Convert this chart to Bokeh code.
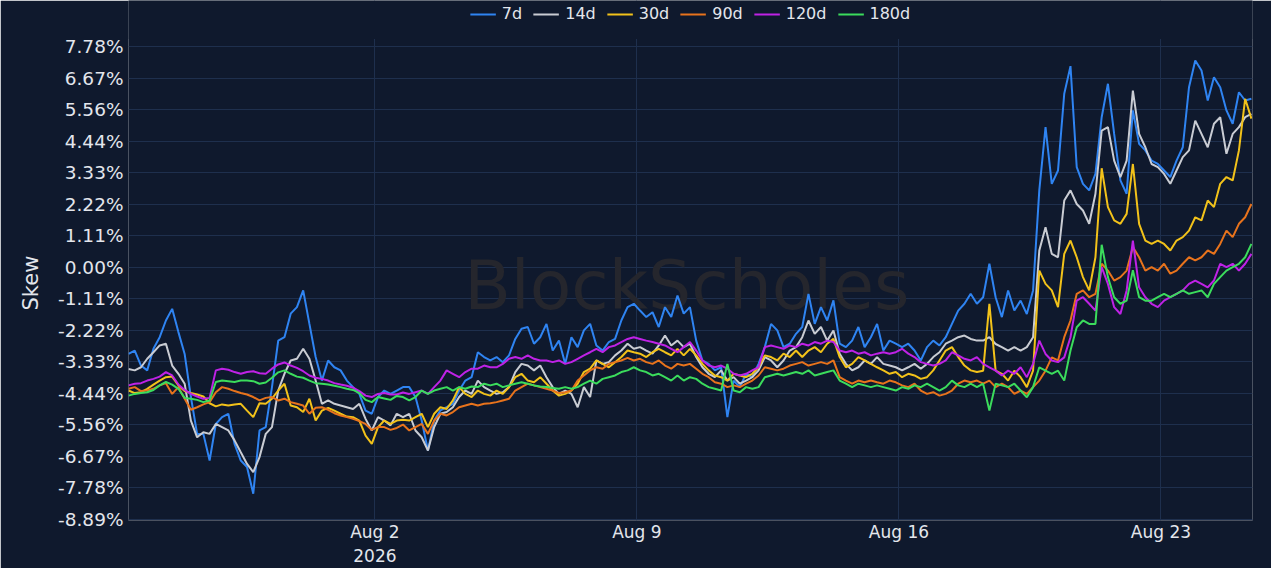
import pandas as pd
from bokeh.plotting import figure
from bokeh.models import (ColumnDataSource, Range1d, FixedTicker, PrintfTickFormatter,
                          CustomJSTickFormatter, Legend, LegendItem, Label, BoxAnnotation,
                          Title)
from bokeh.embed import file_html
from bokeh.resources import INLINE

# ---------------- data (skew, %, sampled every 4 hours) ----------------
START = "2026-07-26 10:00"
FREQ = "4h"

SERIES = ["7d", "14d", "30d", "90d", "120d", "180d"]

skew_7d = [
    -3.05, -2.93, -3.46, -3.63, -2.87, -2.46, -1.87, -1.46, -2.28, -3.05,
    -4.57, -5.87, -5.87, -6.81, -5.52, -5.28, -5.16, -6.22, -6.81, -7.04,
    -7.98, -5.75, -5.63, -4.22, -2.58, -2.46, -1.63, -1.40, -0.81, -1.99,
    -3.16, -3.99, -3.28, -3.52, -3.63, -3.99, -4.22, -4.46, -5.05, -5.16,
    -4.57, -4.34, -4.46, -4.34, -4.22, -4.22, -4.57, -5.40, -6.46, -5.40,
    -5.04, -4.93, -4.81, -4.34, -3.99, -3.87, -2.99, -3.16, -3.28, -3.16,
    -3.34, -3.10, -2.52, -2.16, -2.10, -2.69, -2.46, -1.99, -2.93, -2.58,
    -3.40, -2.46, -2.81, -2.22, -1.99, -2.75, -2.93, -2.63, -2.52, -1.87,
    -1.40, -1.28, -1.52, -1.75, -1.58, -2.10, -1.40, -1.75, -0.99, -1.63,
    -1.40, -2.58, -3.28, -3.40, -3.63, -3.52, -5.28, -3.99, -4.22, -3.75,
    -3.87, -3.40, -2.81, -1.99, -2.22, -2.81, -2.69, -2.34, -2.10, -0.93,
    -1.99, -1.40, -1.87, -1.16, -2.69, -2.81, -2.58, -2.10, -2.81, -2.46,
    -1.99, -2.93, -2.58, -2.69, -2.81, -2.69, -2.93, -3.28, -2.81, -2.58,
    -2.75, -2.46, -1.99, -1.52, -1.28, -0.93, -1.28, -1.05, 0.13, -1.05,
    -1.75, -0.81, -1.52, -1.17, -1.64, -0.81, 2.72, 4.95, 2.95, 3.42,
    6.13, 7.10, 3.54, 2.95, 2.72, 3.30, 5.30, 6.48, 4.71, 3.07,
    2.60, 5.54, 4.36, 4.13, 3.77, 3.65, 3.42, 3.19, 3.77, 4.24,
    6.36, 7.30, 6.95, 5.89, 6.71, 6.36, 5.54, 5.07, 6.18, 5.89, 5.95,
]

skew_14d = [
    -3.58, -3.63, -3.52, -3.22, -2.99, -2.75, -2.69, -3.46, -3.75, -4.10,
    -5.40, -5.99, -5.81, -5.87, -5.52, -5.63, -5.75, -6.10, -6.52, -6.93,
    -7.22, -6.69, -5.87, -5.63, -4.34, -3.75, -3.28, -3.22, -2.87, -3.22,
    -3.99, -4.81, -4.69, -4.81, -4.87, -4.93, -4.99, -4.81, -5.34, -5.75,
    -5.28, -5.40, -5.57, -5.16, -5.28, -5.16, -5.75, -5.99, -6.46, -5.63,
    -5.16, -5.10, -4.93, -4.57, -4.34, -4.46, -3.99, -4.22, -4.34, -4.46,
    -4.40, -4.22, -3.69, -3.40, -3.46, -3.63, -3.46, -3.87, -4.22, -4.46,
    -4.34, -4.46, -4.93, -4.22, -4.57, -3.28, -3.40, -3.34, -3.10, -2.93,
    -2.69, -2.87, -2.81, -2.93, -3.04, -2.75, -2.40, -2.75, -2.58, -2.81,
    -2.69, -3.16, -3.52, -3.75, -3.87, -3.63, -3.99, -3.87, -4.10, -3.99,
    -3.87, -3.63, -3.16, -3.28, -3.52, -3.28, -2.93, -2.81, -2.46, -1.87,
    -2.34, -2.10, -2.58, -2.22, -3.04, -3.40, -3.63, -3.52, -3.28, -3.40,
    -3.16, -3.40, -3.46, -3.52, -3.63, -3.52, -3.40, -3.57, -3.40, -3.16,
    -2.99, -2.69, -2.58, -2.46, -2.40, -2.52, -2.58, -2.58, -2.46, -2.70,
    -2.81, -2.93, -2.81, -2.93, -2.81, -2.46, 0.60, 1.42, 0.48, 0.36,
    2.36, 2.72, 2.24, 2.01, 1.54, 2.60, 4.83, 4.95, 3.77, 3.19,
    3.77, 6.24, 4.71, 4.24, 3.65, 3.54, 3.30, 2.95, 3.42, 3.89,
    4.13, 5.18, 4.71, 4.24, 5.07, 5.30, 4.01, 4.71, 4.95, 5.30, 5.42,
]

skew_30d = [
    -4.34, -4.43, -4.40, -4.28, -4.13, -3.99, -3.87, -3.85, -4.16, -4.36,
    -4.43, -4.48, -4.55, -4.79, -4.90, -4.83, -4.87, -4.83, -4.81, -5.05,
    -5.28, -4.79, -4.81, -4.63, -4.34, -4.10, -4.87, -4.93, -5.10, -4.63,
    -5.40, -5.05, -4.95, -5.05, -5.16, -5.26, -5.28, -5.40, -5.93, -6.22,
    -5.63, -5.40, -5.52, -5.40, -5.37, -5.40, -5.28, -5.16, -5.63, -5.16,
    -4.93, -4.99, -4.69, -4.22, -4.46, -4.57, -4.34, -4.46, -4.52, -4.34,
    -4.46, -4.22, -3.87, -3.75, -3.99, -4.05, -3.87, -4.10, -4.34, -4.52,
    -4.46, -4.34, -4.10, -3.69, -3.57, -3.28, -3.40, -3.52, -3.34, -3.16,
    -2.93, -2.99, -3.04, -3.16, -2.99, -2.87, -2.99, -3.10, -2.87, -3.10,
    -2.87, -3.10, -3.40, -3.63, -3.81, -3.87, -3.99, -3.75, -3.81, -3.87,
    -3.75, -3.52, -3.10, -3.16, -3.28, -3.04, -3.16, -2.93, -3.16, -2.93,
    -2.81, -2.99, -2.69, -2.52, -3.16, -3.52, -3.40, -3.16, -3.28, -3.40,
    -3.52, -3.63, -3.75, -3.69, -3.87, -3.75, -3.81, -3.93, -3.87, -3.63,
    -3.28, -2.93, -2.81, -3.16, -3.46, -3.63, -3.69, -3.64, -1.28, -3.64,
    -3.75, -3.99, -3.64, -3.87, -4.22, -3.64, -0.11, -0.58, -0.81, -1.40,
    0.48, 0.95, 0.36, -0.34, -0.81, 0.36, 3.50, 2.13, 1.66, 1.54,
    1.89, 3.65, 1.54, 0.95, 0.83, 0.95, 0.83, 0.60, 0.95, 1.07,
    1.30, 1.77, 1.66, 2.36, 2.13, 2.95, 3.19, 3.07, 4.13, 5.95, 5.25,
]

skew_90d = [
    -4.28, -4.22, -4.36, -4.34, -4.28, -4.16, -4.08, -4.46, -4.22, -4.63,
    -5.02, -4.93, -4.83, -4.75, -4.40, -4.22, -4.28, -4.36, -4.43, -4.48,
    -4.57, -4.69, -4.60, -4.57, -4.69, -4.63, -4.75, -4.81, -4.87, -5.16,
    -4.95, -4.93, -5.02, -5.14, -5.22, -5.28, -5.34, -5.42, -5.52, -5.73,
    -5.63, -5.63, -5.73, -5.66, -5.54, -5.75, -5.63, -5.52, -5.87, -5.40,
    -5.16, -5.22, -5.10, -4.93, -4.87, -4.81, -4.87, -4.81, -4.79, -4.75,
    -4.69, -4.63, -4.34, -4.22, -4.10, -4.16, -4.22, -4.28, -4.34, -4.43,
    -4.40, -4.34, -3.99, -3.81, -3.63, -3.52, -3.57, -3.40, -3.34, -3.28,
    -3.19, -3.28, -3.22, -3.34, -3.40, -3.28, -3.46, -3.57, -3.40, -3.46,
    -3.40, -3.57, -3.75, -3.87, -4.05, -4.10, -4.22, -4.16, -4.22, -4.10,
    -3.99, -3.81, -3.52, -3.57, -3.63, -3.57, -3.46, -3.40, -3.34, -3.46,
    -3.40, -3.34, -3.40, -3.28, -3.87, -3.99, -4.10, -3.99, -4.05, -3.99,
    -4.05, -4.10, -3.99, -4.05, -4.16, -4.22, -4.10, -4.34, -4.46, -4.40,
    -4.52, -4.46, -4.34, -4.10, -3.99, -4.05, -3.99, -4.10, -3.99, -4.22,
    -4.10, -4.22, -4.46, -4.34, -4.46, -4.22, -3.99, -3.64, -3.17, -3.28,
    -2.46, -1.87, -0.93, -0.81, -1.05, -0.93, 0.13, -0.11, -0.46, -0.34,
    -0.11, 0.72, 0.36, -0.11, 0.01, -0.11, 0.13, -0.22, -0.11, 0.13,
    0.36, 0.25, 0.36, 0.60, 0.48, 0.83, 1.30, 1.07, 1.54, 1.77, 2.24,
]

skew_120d = [
    -4.16, -4.10, -4.08, -3.99, -3.93, -3.85, -3.69, -3.81, -4.13, -4.32,
    -4.46, -4.55, -4.63, -4.60, -3.63, -3.57, -3.61, -3.69, -3.75, -3.69,
    -3.66, -3.73, -3.75, -3.57, -3.42, -3.35, -3.46, -3.54, -3.66, -3.81,
    -3.89, -3.93, -3.99, -4.08, -4.13, -4.17, -4.24, -4.36, -4.52, -4.57,
    -4.46, -4.43, -4.48, -4.48, -4.41, -4.46, -4.40, -4.34, -4.46, -4.22,
    -3.99, -3.63, -3.75, -3.87, -3.69, -3.57, -3.57, -3.46, -3.52, -3.52,
    -3.40, -3.22, -3.16, -3.22, -3.10, -3.22, -3.28, -3.28, -3.34, -3.28,
    -3.40, -3.34, -3.22, -3.10, -2.99, -2.87, -2.99, -2.81, -2.75, -2.63,
    -2.52, -2.46, -2.52, -2.58, -2.63, -2.69, -2.75, -2.87, -2.99, -2.81,
    -2.63, -2.93, -3.28, -3.46, -3.52, -3.46, -3.57, -3.75, -3.81, -3.75,
    -3.63, -3.52, -2.81, -2.75, -2.81, -2.87, -2.75, -2.81, -2.69, -2.75,
    -2.63, -2.69, -2.58, -2.63, -2.93, -2.99, -2.93, -3.04, -2.99, -3.10,
    -3.04, -2.99, -3.04, -2.99, -2.87, -3.04, -3.16, -3.34, -3.40, -3.46,
    -3.40, -3.28, -2.99, -3.10, -3.22, -3.28, -3.16, -3.40, -3.52, -3.64,
    -3.81, -3.64, -3.75, -3.52, -3.87, -3.40, -2.58, -3.05, -3.28, -3.34,
    -3.17, -2.46, -1.17, -1.05, -1.28, -1.52, 0.01, -0.58, -1.40, -1.64,
    -0.81, 0.95, -0.70, -1.05, -1.28, -1.40, -1.17, -1.05, -0.93, -0.81,
    -0.58, -0.46, -0.58, -0.70, -0.46, 0.13, 0.01, 0.13, -0.11, 0.13, 0.48,
]

skew_180d = [
    -4.52, -4.46, -4.43, -4.40, -4.32, -4.16, -4.04, -4.13, -4.28, -4.60,
    -4.63, -4.67, -4.75, -4.69, -4.04, -3.99, -4.01, -4.04, -3.99, -3.99,
    -4.01, -4.10, -4.06, -3.89, -3.70, -3.63, -3.75, -3.85, -3.89, -3.99,
    -4.08, -4.10, -4.13, -4.17, -4.22, -4.28, -4.32, -4.43, -4.67, -4.75,
    -4.57, -4.62, -4.67, -4.53, -4.57, -4.69, -4.57, -4.34, -4.46, -4.34,
    -4.28, -4.22, -4.34, -4.22, -4.28, -4.20, -4.22, -4.10, -4.16, -4.10,
    -4.22, -4.16, -4.10, -4.05, -4.10, -4.16, -4.20, -4.22, -4.25, -4.28,
    -4.22, -4.28, -4.22, -4.10, -3.99, -4.10, -3.93, -3.87, -3.81, -3.69,
    -3.63, -3.52, -3.63, -3.69, -3.81, -3.75, -3.87, -3.99, -3.81, -3.99,
    -3.87, -3.93, -4.10, -4.22, -4.28, -4.34, -3.40, -4.34, -4.40, -4.22,
    -4.28, -4.22, -3.87, -3.81, -3.75, -3.81, -3.75, -3.69, -3.75, -3.63,
    -3.81, -3.75, -3.69, -3.63, -3.99, -4.10, -4.22, -4.10, -4.16, -4.22,
    -4.16, -4.22, -4.28, -4.34, -4.22, -4.28, -4.16, -4.22, -4.10, -4.22,
    -4.34, -4.22, -3.99, -4.16, -4.22, -4.10, -4.22, -4.10, -5.05, -4.10,
    -4.16, -4.22, -4.10, -4.34, -4.58, -4.22, -3.52, -3.64, -3.75, -3.64,
    -3.99, -2.93, -2.11, -1.87, -1.99, -1.99, 0.80, -0.34, -1.05, -1.28,
    -1.17, -0.10, -1.05, -1.17, -1.17, -1.05, -0.93, -1.05, -0.93, -0.81,
    -0.93, -0.87, -0.81, -1.05, -0.58, -0.34, -0.11, 0.01, 0.13, 0.36, 0.83,
]

X_TICK_DATES = ["2026-08-02", "2026-08-09", "2026-08-16", "2026-08-23"]
X_TICK_LABELS = ["Aug 2\n2026", "Aug 9", "Aug 16", "Aug 23"]
Y_TICKS = [-8.8889, -7.7778, -6.6667, -5.5556, -4.4444, -3.3333, -2.2222, -1.1111,
           0.0, 1.1111, 2.2222, 3.3333, 4.4444, 5.5556, 6.6667, 7.7778]
Y_LABEL = "Skew"

# ---------------- style / layout ----------------
COLORS = ["#2f84f2", "#c9ccd3", "#f2c21a", "#e8731c", "#bf22e6", "#3bdc5c"]
BG = "#0f192d"
GRID = "#1e2f4d"
TEXT = "#e3e6ec"
WATERMARK = "#25262d"
FONT = "DejaVu Sans"

W, H = 1271, 568
LEFT, RIGHT, BOTTOM = 128, 19, 48
PX_PER_DAY = 37.43
PX_PER_PCT = 28.35

all_values = [skew_7d, skew_14d, skew_30d, skew_90d, skew_120d, skew_180d]
n = max(len(v) for v in all_values)
times = pd.date_range(START, periods=n, freq=FREQ)

frame_w = W - LEFT - RIGHT
frame_h = H - BOTTOM
to_ms = lambda ts: pd.Timestamp(ts).value / 1e6
DAY_MS = 86400000.0
x0 = to_ms(START)
x1 = x0 + frame_w / PX_PER_DAY * DAY_MS
y0 = -8.89 - 1.0 / PX_PER_PCT
y1 = y0 + frame_h / PX_PER_PCT

p = figure(width=W, height=H, x_axis_type="datetime",
           output_backend="svg", toolbar_location=None,
           x_range=Range1d(x0, x1), y_range=Range1d(y0, y1),
           min_border_left=LEFT, min_border_right=RIGHT,
           min_border_top=0, min_border_bottom=BOTTOM,
           background_fill_color=BG, border_fill_color=BG,
           outline_line_color=None)

# watermark
wm = Label(x=to_ms("2026-08-10 08:00"), y=-0.65, text="BlockScholes",
           text_font=FONT, text_font_size="68px", text_color=WATERMARK,
           text_align="center", text_baseline="middle", level="underlay")
p.add_layout(wm)

renderers = []
for name, vals, col in zip(SERIES, all_values, COLORS):
    src = ColumnDataSource(dict(t=times[:len(vals)], y=vals))
    r = p.line("t", "y", source=src, line_color=col, line_width=2)
    renderers.append(r)

# axes
xticks = [to_ms(d) for d in X_TICK_DATES]
xticker = FixedTicker(ticks=xticks)
xax = p.xaxis[0]
xax.ticker = xticker
xax.formatter = CustomJSTickFormatter(
    args=dict(tv=xticks, tl=X_TICK_LABELS),
    code="""
const i = tv.indexOf(tick);
if (i >= 0) { return tl[i]; }
return "";
""")
yticker = FixedTicker(ticks=Y_TICKS)
yax = p.yaxis[0]
yax.ticker = yticker
yax.formatter = PrintfTickFormatter(format="%.2f%%")
p.xgrid[0].ticker = xticker
p.ygrid[0].ticker = yticker

for ax in (xax, yax):
    ax.axis_line_color = None
    ax.major_tick_line_color = None
    ax.minor_tick_line_color = None
    ax.major_tick_out = 0
    ax.major_tick_in = 0
    ax.major_label_text_color = TEXT
    ax.major_label_text_font = FONT

xax.major_label_text_font_size = "17px"
xax.major_label_standoff = 1
yax.major_label_text_font_size = "18.5px"
yax.major_label_standoff = 5

p.xgrid.grid_line_color = GRID
p.ygrid.grid_line_color = GRID
p.xgrid.grid_line_width = 1
p.ygrid.grid_line_width = 1

# y axis title, placed so that it reads upward from y ~ 310 px
ytitle = Title(text=Y_LABEL, align="left", offset=frame_h - 310, standoff=26,
               vertical_align="bottom", text_font=FONT, text_font_size="21px",
               text_font_style="normal", text_color=TEXT)
p.add_layout(ytitle, "left")

# strip above the plot area (legend zone) hides the vertical grid lines there
top_strip = BoxAnnotation(bottom=8.06, fill_color=BG, fill_alpha=1.0,
                          line_color=None)
p.add_layout(top_strip)

items = [LegendItem(label=nm, renderers=[r]) for nm, r in zip(SERIES, renderers)]
legend = Legend(items=items, orientation="horizontal", location="top_center",
                background_fill_alpha=0, border_line_alpha=0,
                label_text_color=TEXT, label_text_font=FONT,
                label_text_font_size="16px", glyph_width=26, glyph_height=16,
                label_standoff=6, spacing=11, padding=0, margin=4,
                label_height=16)
p.add_layout(legend, "center")

open("out.html", "w").write(file_html(p, INLINE))
